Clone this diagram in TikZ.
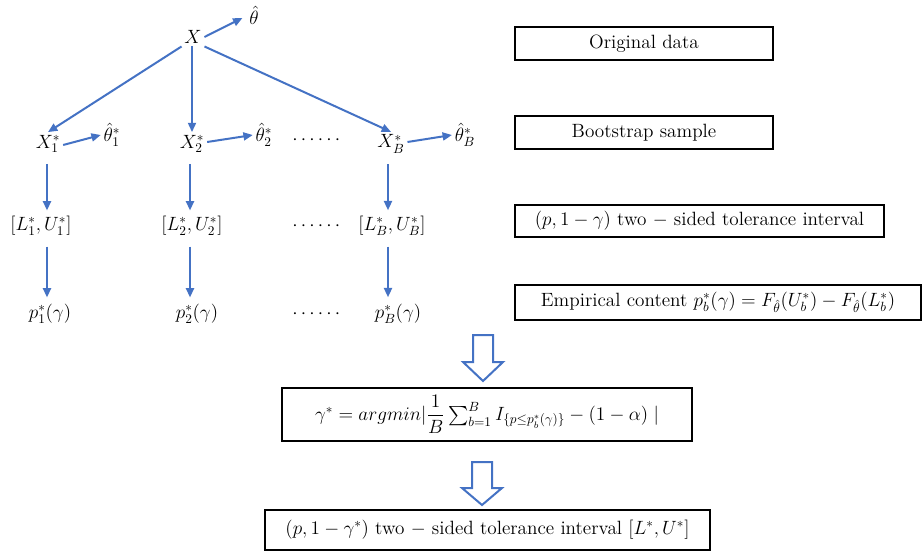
\documentclass[tikz,border=0pt]{standalone}
\usepackage{amsmath,amssymb}
\usetikzlibrary{arrows.meta,calc}
\definecolor{arrowblue}{HTML}{4472C4}
\begin{document}
\begin{tikzpicture}[x=0.75pt,y=-0.75pt,
  every node/.style={font=\fontsize{14.4}{17}\selectfont, inner sep=2pt},
  flow/.style={draw=arrowblue, line width=1.5pt, -{Triangle[length=7pt,width=6pt]}},
  labelbox/.style={draw=black, line width=1.5pt, minimum height=#1, inner sep=3pt},
  hollow/.style={draw=arrowblue, line width=1.5pt, fill=white, line join=miter}
]
\useasboundingbox (0,0) rectangle (923,556);

% top
\node (X) at (193,37) {$X$};
\node (th) at (254,15) {$\hat\theta$};

\node (X1) at (48,144) {$X_1^*$};
\node (t1) at (112,135) {$\hat\theta_1^*$};
\node (X2) at (192,144) {$X_2^*$};
\node (t2) at (264,135) {$\hat\theta_2^*$};
\node (d1) at (318,140) {$\cdots\cdots$};
\node (XB) at (391,144) {$X_B^*$};
\node (tB) at (465,135) {$\hat\theta_B^*$};

\node (L1) at (41,226) {$[L_1^*,U_1^*]$};
\node (L2) at (192,226) {$[L_2^*,U_2^*]$};
\node (d2) at (318,226) {$\cdots\cdots$};
\node (LB) at (392,226) {$[L_B^*,U_B^*]$};

\node (P1) at (50,314) {$p_1^*(\gamma)$};
\node (P2) at (197,314) {$p_2^*(\gamma)$};
\node (d3) at (318,314) {$\cdots\cdots$};
\node (PB) at (398,314) {$p_B^*(\gamma)$};

% arrows
\draw[flow] (X.east) -- ($(th.west)+(-4,3)$);
\draw[flow] (X.south west) -- (X1.north);
\draw[flow] (X2.north |- X.south) -- (X2.north);
\draw[flow] (X.south east) -- (XB.north);
\draw[flow] ($(X1.east)+(0,1)$) -- (t1.west);
\draw[flow] ($(X2.east)+(0,-2)$) -- (t2.west);
\draw[flow] ($(XB.east)+(0,-2)$) -- (tB.west);

\draw[flow] ($(X1.south)+(-1,8)$) -- ($(X1.south |- L1.north)+(-1,-3)$);
\draw[flow] ($(X2.south)+(-2,8)$) -- ($(X2.south |- L2.north)+(-2,-3)$);
\draw[flow] ($(XB.south)+(-3,8)$) -- ($(XB.south |- LB.north)+(-3,-3)$);

\draw[flow] ($(X1.south |- L1.south)+(-1,8)$) -- ($(X1.south |- P1.north)+(-1,-4)$);
\draw[flow] ($(X2.south |- L2.south)+(-2,8)$) -- ($(X2.south |- P2.north)+(-2,-4)$);
\draw[flow] ($(XB.south |- LB.south)+(-3,8)$) -- ($(XB.south |- PB.north)+(-3,-4)$);

% right boxes
\node[labelbox=24.75pt, minimum width=193.5pt] (b1) at (644,43.5) {Original data};
\node[labelbox=24.75pt, minimum width=193.5pt] (b2) at (644,132.5) {Bootstrap sample};
\node[labelbox=24pt, minimum width=276.75pt] (b3) at (699.5,221) {$(p,1-\gamma)$ two $-$ sided tolerance interval};
\node[labelbox=26.25pt, minimum width=305pt] (b4) at (718,302.5) {Empirical content $p_b^*(\gamma)=F_{\hat\theta}(U_b^*)-F_{\hat\theta}(L_b^*)$};

\node[labelbox=39.75pt, minimum width=307.5pt] (b5) at (487,414.5) {$\gamma^*=argmin|\dfrac{1}{B}\textstyle\sum_{b=1}^{B} I_{\{p\le p_b^*(\gamma)\}}-(1-\alpha)\;|$};
\node[labelbox=30pt, minimum width=333.75pt] (b6) at (487.5,530) {$(p,1-\gamma^*)$ two $-$ sided tolerance interval $[L^*,U^*]$};

% hollow arrows
\draw[hollow] (473,335) -- (493,335) -- (493,362) -- (503,362) -- (483,381) -- (463,362) -- (473,362) -- cycle;
\draw[hollow] (472,462) -- (492,462) -- (492,488) -- (502,488) -- (482,505) -- (462,488) -- (472,488) -- cycle;
\end{tikzpicture}
\end{document}
